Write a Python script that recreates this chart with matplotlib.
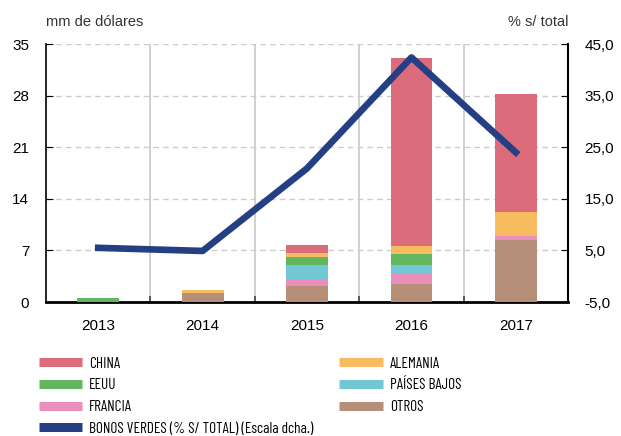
import matplotlib.pyplot as plt
import numpy as np
from matplotlib.lines import Line2D

plt.rcParams['font.family'] = ['Liberation Sans', 'DejaVu Sans']

years = ['2013', '2014', '2015', '2016', '2017']
otros = [0.0, 1.2, 2.2, 2.45, 8.45]
francia = [0.0, 0.0, 0.85, 1.45, 0.45]
paises_bajos = [0.0, 0.0, 2.0, 1.1, 0.0]
eeuu = [0.55, 0.0, 1.05, 1.5, 0.0]
alemania = [0.0, 0.4, 0.6, 1.1, 3.25]
china = [0.0, 0.0, 1.0, 25.55, 16.05]
bonos_verdes = [5.5, 4.9, 20.9, 42.4, 24.0]

series = [
    ('OTROS', otros, '#b68f78'),
    ('FRANCIA', francia, '#ea8fbb'),
    ('PAÍSES BAJOS', paises_bajos, '#72c7d5'),
    ('EEUU', eeuu, '#62b75e'),
    ('ALEMANIA', alemania, '#f9bb60'),
    ('CHINA', china, '#dc6b7c'),
]
line_color = '#253f85'

fig = plt.figure(figsize=(6.21, 4.36), dpi=100)
ax = fig.add_axes([0.0741, 0.3073, 0.8406, 0.5917])
x = np.arange(len(years))

bottom = np.zeros(len(years))
handles = {}
for name, vals, col in series:
    vals = np.array(vals)
    ax.bar(x, vals, 0.4, bottom=bottom, color=col, edgecolor='none', zorder=3)
    handles[name] = Line2D([], [], color=col, lw=6.5, solid_capstyle='butt')
    bottom += vals

ax.set_xlim(-0.5, 4.5)
ax.set_ylim(0, 35)
ax.set_yticks([0, 7, 14, 21, 28, 35])
ax.set_xticks(x)
ax.set_xticklabels(years)
ax.set_xticks(np.arange(0.5, 4.5, 1), minor=True)
ax.tick_params(axis='x', which='major', length=0, pad=12, labelsize=11)
ax.tick_params(axis='x', which='minor', direction='in', length=4, width=1.2, color='#444444')
ax.tick_params(axis='y', direction='in', length=5, pad=12, labelsize=11)
ax.grid(axis='x', which='minor', color='#c8c8c8', lw=1.2, zorder=0)
ax.grid(axis='y', which='major', color='#cccccc', lw=1, ls=(0, (4, 3)), zorder=0)
ax.spines['top'].set_visible(False)
ax.spines['bottom'].set_linewidth(2)
ax.spines['left'].set_linewidth(1.2)
ax.spines['right'].set_visible(False)

ax2 = ax.twinx()
ax2.plot(x, bonos_verdes, color=line_color, lw=4.8, zorder=5)
ax2.set_ylim(-5, 45)
ax2.set_yticks([-5, 5, 15, 25, 35, 45])
ax2.set_yticklabels(['-5,0', '5,0', '15,0', '25,0', '35,0', '45,0'])
ax2.tick_params(axis='y', direction='in', length=5, pad=12, labelsize=11)
ax2.spines['top'].set_visible(False)
ax2.spines['left'].set_visible(False)
ax2.spines['bottom'].set_visible(False)
ax2.spines['right'].set_linewidth(1.5)

fig.text(0.0741, 0.95, 'mm de dólares', ha='left', va='center', fontsize=10.5, color='#333333')
fig.text(0.9147, 0.95, '% s/ total', ha='right', va='center', fontsize=10.5, color='#333333')

handles['BONOS'] = Line2D([], [], color=line_color, lw=6.5, solid_capstyle='butt')
order = ['CHINA', 'EEUU', 'FRANCIA', 'BONOS', 'ALEMANIA', 'PAÍSES BAJOS', 'OTROS']
labels = ['CHINA', 'EEUU', 'FRANCIA', 'BONOS VERDES (% S/ TOTAL) (Escala dcha.)',
          'ALEMANIA', 'PAÍSES BAJOS', 'OTROS']
fig.legend([handles[k] for k in order], labels, ncol=2, loc='upper left',
           bbox_to_anchor=(0.062, 0.182), frameon=False, borderpad=0, borderaxespad=0,
           handlelength=2.85, handletextpad=0.45, labelspacing=0.5, columnspacing=1.7,
           prop={'family': ['Barlow Condensed', 'DejaVu Sans'], 'size': 11})

fig.savefig('out.png', dpi=100)
